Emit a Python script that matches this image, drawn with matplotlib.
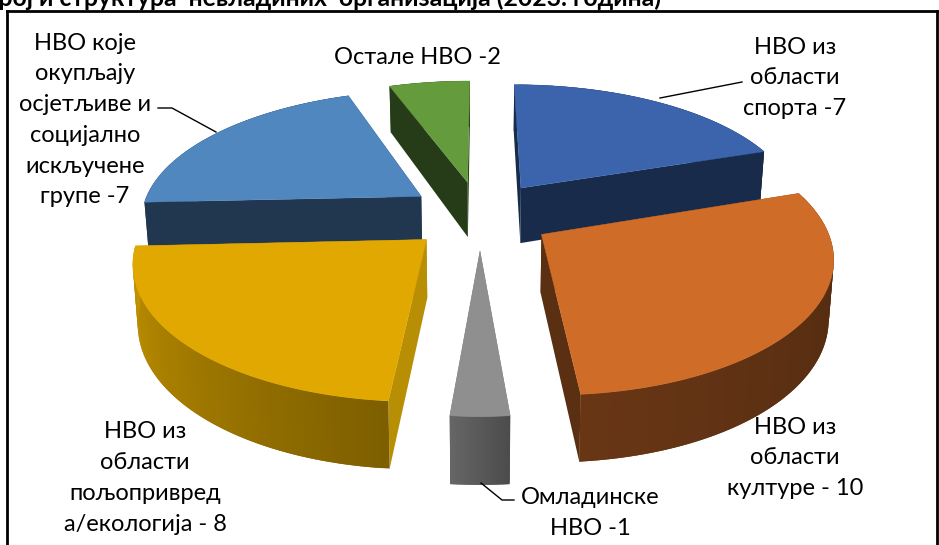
import numpy as np
import matplotlib
matplotlib.use("Agg")
import matplotlib.pyplot as plt
from matplotlib.patches import Polygon

labels = ["НВО из\nобласти\nспорта -7", "НВО из\nобласти\nкултуре - 10", "Омладинске\nНВО -1",
          "НВО из\nобласти\nпољопривред\nа/екологија - 8",
          "НВО које\nокупљају\nосјетљиве и\nсоцијално\nискључене\nгрупе -7", "Остале НВО -2"]
values = [7, 10, 1, 8, 7, 2]
top_colors = ["#3B64AD", "#CE6C28", "#8F8F8F", "#E0A800", "#5087BE", "#639B3D"]
cut_colors = ["#182B4A", "#5A2F12", "#666666", "#B88F04", "#20374F", "#263C18"]
rim_start = ["#182B4A", "#4C280F", "#4C4C4C", "#7D5F00", "#20374F", "#263C18"]
rim_end = ["#182B4A", "#683615", "#666666", "#C49300", "#20374F", "#263C18"]
label_xy = [(795, 78), (795, 458), (590, 513), (145, 478), (85, 120), (417, 57)]
title = "Број и структура  невладиних  организација (2023. година)"

plt.rcParams["font.family"] = ["Lato", "Noto Sans", "DejaVu Sans"]
fig = plt.figure(figsize=(9.39, 5.45), dpi=100)
ax = fig.add_axes([0, 0, 1, 1])
ax.set_xlim(0, 939)
ax.set_ylim(545, 0)
ax.axis("off")

CX, CY, RX, RY, EXPL_X, EXPL_Y, K, PERSP, DEPTH = 480, 215, 281, 290, 72, 75, 0.46, 0.2, 57


def proj(X, Y, z=0.0):
    s = 1 + PERSP * Y / 365
    return CX + X * s * (1 - 0.00025 * z), CY + Y * K * s + z * s


def hex2rgb(c):
    return np.array(matplotlib.colors.to_rgb(c))


angles = np.cumsum([0] + values) / sum(values) * 2 * np.pi
order = [5, 4, 0, 1, 3, 2]
for i in order:
    a0, a1 = angles[i], angles[i + 1]
    mid = (a0 + a1) / 2
    ox, oy = EXPL_X * np.sin(mid), -EXPL_Y * np.cos(mid)
    th = np.linspace(a0, a1, 60)
    xs = ox + RX * np.sin(th)
    ys = oy - RY * np.cos(th)
    base = order.index(i) * 3
    for a_x, a_y in ((xs[0], ys[0]), (xs[-1], ys[-1])):
        q = [proj(ox, oy), proj(a_x, a_y), proj(a_x, a_y, DEPTH), proj(ox, oy, DEPTH)]
        ax.add_patch(Polygon(q, closed=True, fc=cut_colors[i], ec="none", zorder=base + 1))
    # outer rim: overlapping quads so that no seams show in the gradient
    c0, c1 = hex2rgb(rim_start[i]), hex2rgb(rim_end[i])
    n = len(th)
    for j in range(n - 1):
        col = c0 + (c1 - c0) * j / (n - 2)
        k = min(j + 2, n - 1)
        q = [proj(xs[j], ys[j]), proj(xs[k], ys[k]), proj(xs[k], ys[k], DEPTH), proj(xs[j], ys[j], DEPTH)]
        ax.add_patch(Polygon(q, closed=True, fc=col, ec="none", zorder=base + 2))
    top = [proj(ox, oy)] + [proj(x, y) for x, y in zip(xs, ys)]
    ax.add_patch(Polygon(top, closed=True, fc=top_colors[i], ec=top_colors[i], lw=0.3, zorder=base + 3))

for name, (x, y) in zip(labels, label_xy):
    ax.text(x, y, name, ha="center", va="center", fontsize=17.0, linespacing=1.57, color="black", zorder=40)

for px, py in [((660, 742), (98, 82)), ((216, 172, 158), (132, 108, 108)), ((481, 502, 514), (483, 500, 500))]:
    ax.plot(px, py, color="black", lw=1, zorder=41)

ax.plot([7, 7], [545, 11], color="black", lw=2, zorder=50)
ax.plot([7, 937], [11, 11], color="black", lw=2, zorder=50)
ax.plot([937, 937], [11, 545], color="black", lw=2, zorder=50)
ax.text(-17, 5.5, title, ha="left", va="baseline", fontsize=17.85, fontweight="bold", color="black", zorder=50)

fig.savefig("out.png", dpi=100)
